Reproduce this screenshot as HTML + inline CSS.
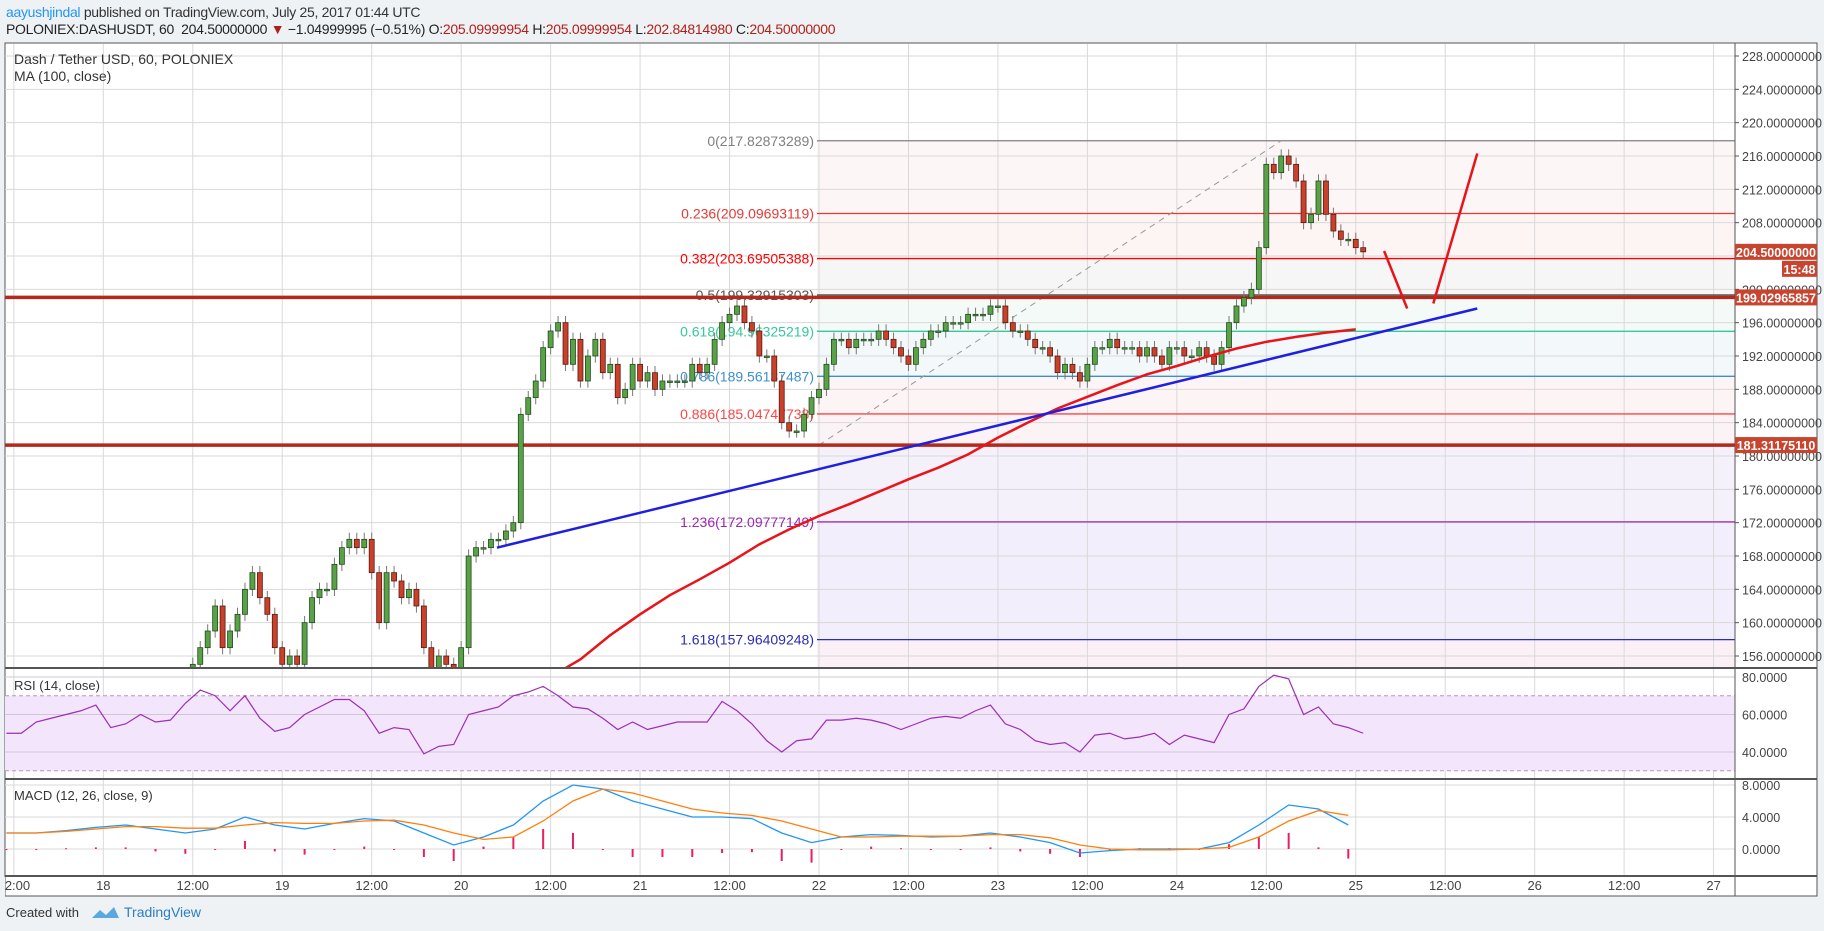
<!DOCTYPE html>
<html><head><meta charset="utf-8"><style>
html,body{margin:0;padding:0;background:#eff2f5;width:1824px;height:931px;overflow:hidden;font-family:"Liberation Sans",sans-serif}
#hdr1{position:absolute;left:6px;top:4px;font-size:14px;color:#333;letter-spacing:-0.3px}
#hdr2{position:absolute;left:6px;top:21px;font-size:14px;color:#222;letter-spacing:-0.3px}
.red{color:#b0201a}
svg{position:absolute;left:0;top:0}
</style></head><body>
<div id="hdr1"><span style="color:#2196f3">aayushjindal</span> published on TradingView.com, July 25, 2017 01:44 UTC</div>
<div id="hdr2">POLONIEX:DASHUSDT, 60&nbsp; 204.50000000 <span class="red">▼</span> −1.04999995 (−0.51%) O:<span class="red">205.09999954</span> H:<span class="red">205.09999954</span> L:<span class="red">202.84814980</span> C:<span class="red">204.50000000</span></div>
<svg id="chart" width="1824" height="931"></svg>
<script>
// ---- data ----
const candleStartHour = -84; // hours relative to Jul 22 00:00
const closes = [155,157,159,162,157,159,161,164,166,163,161,157,155,156,155,160,163,164,164,167,169,170,169,170,166,160,166,165,163,164,162,157,154,156,155,154,157,168,169,169,170,170,171,172,185,187,189,193,195,196,191,194,189,192,194,190,191,187,188,191,189,190,188,189,189,189,189,191,190,191,194,196,197,198,196,195,192,192,189,184,183,183,185,187,188,191,194,194,193,194,194,194,195,194,193,192,191,193,194,195,195,196,196,196,197,197,197,198,198,196,195,195,194,193,193,192,190,191,190,189,191,193,193,194,193,193,193,192,193,192,191,193,193,192,192,193,192,191,193,196,198,199,200,205,215,214,216,215,213,208,209,213,209,207,206,206,205,204.5];
const rsiStartHour = -109, rsiStep = 2;
const rsiValues = [50,50,56,58,60,62,65,53,55,60,56,57,66,73,70,62,70,58,51,53,60,64,68,68,62,50,53,52,39,43,44,60,62,64,70,72,75,70,64,63,58,52,56,52,54,56,56,56,67,62,55,46,40,46,47,57,57,58,57,55,52,55,58,59,58,62,65,55,52,46,44,45,40,49,50,47,48,50,44,49,47,45,60,63,75,81,79,60,64,55,53,50];
const macdStartHour = -109, macdStep = 4;
const macdValues = [2,2,2.3,2.7,3,2.5,2,2.5,4,3,2.5,3.2,3.8,3.5,2,0.5,1.5,3,6,8,7.5,6,5,4,4,3.8,2,0.8,1.5,1.8,1.7,1.5,1.6,2,1.5,0.8,-0.5,-0.2,0,0,0,0.8,3,5.5,5,3];
const signalValues = [2,2,2.2,2.5,2.8,2.8,2.6,2.6,3,3.3,3.2,3.2,3.5,3.6,3,2,1.2,1.5,3.5,6,7.5,7,6,5,4.5,4.2,3.5,2.5,1.5,1.5,1.6,1.6,1.6,1.8,1.8,1.4,0.5,0,-0.1,-0.1,0,0.2,1.5,3.5,4.8,4.2];
const maStartHour = -36, maStep = 4;
const maValues = [153.5,155.6,158.5,161,163.3,165.2,167.2,169.4,171.2,172.8,174.2,175.7,177.2,178.6,180.2,182.2,184,185.7,187.1,188.5,189.8,190.8,191.9,192.9,193.7,194.3,194.8,195.2];
const fibRatios = ["0","0.236","0.382","0.5","0.618","0.786","0.886","1","1.236","1.618"];
const fibPrices = [217.82873289,209.09693119,203.69505388,199.32915303,194.96325219,189.56137487,185.04747738,181.31175110,172.09777149,157.96409248];
const priceTicks = [228,224,220,216,212,208,200,196,192,188,184,180,176,172,168,164,160,156];
const rsiTicks = [80,60,40];
const macdTicks = [8,4,0];
const timeLabels = ["12:00","18","12:00","19","12:00","20","12:00","21","12:00","22","12:00","23","12:00","24","12:00","25","12:00","26","12:00","27"];
const timeLabelStart = -108;
const supportLevels = [199.02965857,181.3117511];
const trendLine = {h1:-43.2, p1:169, h2:88.3, p2:197.7};
const fibAnchor = {h1:0, p1:181.31175110, h2:62, p2:217.82873289};
const projHours = [75.8,78.9,82.4,88.3];
const projPrices = [204.6,197.7,198.3,216.3];
const lastPrice = 204.5;

// ---- scales ----
const L=5,R=1735,AX=1817;
const xT=h=>819+h*7.455;
const yP=p=>56+(228-p)*8.3333;
const yR=v=>677+(80-v)*1.875;
const yM=v=>849-v*8;
const NS="http://www.w3.org/2000/svg";
const svg=document.getElementById('chart');
function el(tag,attrs,parent){const e=document.createElementNS(NS,tag);for(const k in attrs)e.setAttribute(k,attrs[k]);(parent||svg).appendChild(e);return e;}
function txt(s,attrs,parent){const e=el('text',attrs,parent);e.textContent=s;return e;}

// frames
const bg=el('rect',{x:L,y:43,width:AX-L,height:853,fill:'#fff',stroke:'#555','stroke-width':1});

const defs=el('defs',{});
const c1=el('clipPath',{id:'cm'},defs);el('rect',{x:L,y:44,width:R-L,height:623},c1);
const c2=el('clipPath',{id:'cr'},defs);el('rect',{x:L,y:669,width:R-L,height:109},c2);
const c3=el('clipPath',{id:'cd'},defs);el('rect',{x:L,y:780,width:R-L,height:95},c3);
const gm=el('g',{'clip-path':'url(#cm)'});
const gr=el('g',{'clip-path':'url(#cr)'});
const gd=el('g',{'clip-path':'url(#cd)'});

// fib fills
const fibFills=['#fdf6f6','#fdf4f4','#f6f6f6','#f4faf7','#f3f8fb','#fdf4f5','#fbf3f6','#f4f1fb','#f3eefb'];
for(let i=0;i<fibPrices.length-1;i++){
  const r=el('rect',{x:xT(fibAnchor.h1)-2,y:yP(fibPrices[i]),width:R-xT(fibAnchor.h1)+2,height:yP(fibPrices[i+1])-yP(fibPrices[i]),fill:fibFills[i]},gm);
  
}
el('rect',{x:xT(fibAnchor.h1)-2,y:yP(fibPrices[9]),width:R-xT(fibAnchor.h1)+2,height:200,fill:'#fbf0f5'},gm);

// grid
[gm,gr,gd].forEach(g=>{for(let i=0;i<timeLabels.length;i++){const x=xT(timeLabelStart+i*12);el('line',{x1:x,x2:x,y1:43,y2:880,stroke:'#d9d9d9','stroke-width':1},g);}});
priceTicks.concat([204]).forEach(p=>el('line',{x1:L,x2:R,y1:yP(p),y2:yP(p),stroke:'#d9d9d9'},gm));
rsiTicks.forEach(v=>el('line',{x1:L,x2:R,y1:yR(v),y2:yR(v),stroke:'#d0d0d0'},gr));
macdTicks.forEach(v=>el('line',{x1:L,x2:R,y1:yM(v),y2:yM(v),stroke:'#d9d9d9'},gd));

// fib lines
const fibColors=['#808080','#e53935','#f00','#555','#35c89a','#3d8fd1','#f44','#c00','#9c27b0','#2b2bb8'];
fibPrices.forEach((p,i)=>{
  const ln=el('line',{x1:xT(fibAnchor.h1)-2,x2:R,y1:yP(p),y2:yP(p),stroke:fibColors[i],'stroke-width':1.3},gm);
  
  if(i!==7){const t=txt(fibRatios[i]+'('+p.toFixed(8)+')',{x:xT(fibAnchor.h1)-5,y:yP(p)+5,'text-anchor':'end','font-size':14,fill:fibColors[i]},gm);
  }
});
el('line',{x1:xT(fibAnchor.h1),y1:yP(fibAnchor.p1),x2:xT(fibAnchor.h2),y2:yP(fibAnchor.p2),stroke:'#999','stroke-dasharray':'6,5','stroke-width':1},gm);

// support lines
supportLevels.forEach(p=>{const s=el('line',{x1:L,x2:R,y1:yP(p),y2:yP(p),stroke:'#b3291c','stroke-width':3.5},gm);});

// candles
closes.forEach((c,i)=>{
  const o=i?closes[i-1]:c-1, h=candleStartHour+i, x=xT(h);
  const up=c>=o, hi=Math.max(o,c)+0.8, lo=Math.min(o,c)-0.8;
  const g=el('g',{},gm);
  el('line',{x1:x,x2:x,y1:yP(hi),y2:yP(lo),stroke:'#777'},g);
  const top=yP(Math.max(o,c)),bh=Math.max(1.5,yP(Math.min(o,c))-top);
  el('rect',{x:x-2.5,y:top,width:5,height:bh,fill:up?'#5aa148':'#c9402b',stroke:up?'#1f4d1c':'#5a1a12','stroke-width':0.8},g);
});

// MA
let d='';maValues.forEach((v,i)=>{d+=(i?'L':'M')+xT(maStartHour+i*maStep)+','+yP(v);});
const ma=el('path',{d:d,fill:'none',stroke:'#e8141a','stroke-width':2.5},gm);
const tl=el('line',{x1:xT(trendLine.h1),y1:yP(trendLine.p1),x2:xT(trendLine.h2),y2:yP(trendLine.p2),stroke:'#1f1fe0','stroke-width':2.5},gm);

const ar=el('path',{d:`M${xT(projHours[0])},${yP(projPrices[0])}L${xT(projHours[1])},${yP(projPrices[1])}M${xT(projHours[2])},${yP(projPrices[2])}L${xT(projHours[3])},${yP(projPrices[3])}`,fill:'none',stroke:'#e8141a','stroke-width':2.5},gm);


// RSI
el('rect',{x:L,y:yR(70),width:R-L,height:yR(30)-yR(70),fill:'#f3e5fb'},gr);
[70,30].forEach(v=>el('line',{x1:L,x2:R,y1:yR(v),y2:yR(v),stroke:'#b39ab8','stroke-dasharray':'4,3'},gr));
rsiTicks.forEach(v=>el('line',{x1:L,x2:R,y1:yR(v),y2:yR(v),stroke:'#d0c6d6'},gr));
d='';rsiValues.forEach((v,i)=>{d+=(i?'L':'M')+xT(rsiStartHour+i*rsiStep)+','+yR(v);});
const rl=el('path',{d:d,fill:'none',stroke:'#9b30b5','stroke-width':1.2},gr);

// MACD
macdValues.forEach((v,i)=>{const hv=v-signalValues[i],x=xT(macdStartHour+i*macdStep);
  const b=el('rect',{x:x-1,y:Math.min(yM(0),yM(hv)),width:2,height:Math.max(1,Math.abs(hv*8)),fill:'#e91e63'},gd);
  });
d='';macdValues.forEach((v,i)=>{d+=(i?'L':'M')+xT(macdStartHour+i*macdStep)+','+yM(v);});
const ml=el('path',{d:d,fill:'none',stroke:'#2196f3','stroke-width':1.3},gd);
d='';signalValues.forEach((v,i)=>{d+=(i?'L':'M')+xT(macdStartHour+i*macdStep)+','+yM(v);});
const sl=el('path',{d:d,fill:'none',stroke:'#ff7f0e','stroke-width':1.3},gd);

// pane borders
[668,779,876].forEach(y=>el('line',{x1:L,x2:AX,y1:y,y2:y,stroke:'#555','stroke-width':2}));
el('line',{x1:R,x2:R,y1:43,y2:896,stroke:'#555','stroke-width':1});

// axes labels
const ax=el('g',{});
priceTicks.forEach(p=>{el('line',{x1:R,x2:R+4,y1:yP(p),y2:yP(p),stroke:'#555'},ax);txt(p.toFixed(8),{x:R+7,y:yP(p)+5,'font-size':12.5,fill:'#444'},ax);});
rsiTicks.forEach(v=>txt(v.toFixed(4),{x:R+7,y:yR(v)+5,'font-size':12.5,fill:'#444'}));
macdTicks.forEach(v=>txt(v.toFixed(4),{x:R+7,y:yM(v)+5,'font-size':12.5,fill:'#444'}));
function tag(s,y,w){el('rect',{x:AX-w,y:y-8,width:w,height:16,fill:'#c8442e'});txt(s,{x:AX-w/2,y:y+5,'font-size':12.5,'font-weight':'bold',fill:'#fff','text-anchor':'middle'});}
tag(lastPrice.toFixed(8),yP(lastPrice),82);tag('15:48',yP(lastPrice)+17,35);
supportLevels.forEach(p=>tag(p.toFixed(8),yP(p),82));
const ta=el('g',{});
timeLabels.forEach((s,i)=>{const x=xT(timeLabelStart+i*12);if(x>L)txt(s,{x:x,y:890,'font-size':13,fill:'#444','text-anchor':'middle'},ta);});
el('rect',{x:0,y:877,width:L,height:20,fill:'#eff2f5'});
txt('Dash / Tether USD, 60, POLONIEX',{x:14,y:64,'font-size':14,fill:'#333'});
txt('MA (100, close)',{x:14,y:81,'font-size':14,fill:'#333'});
txt('RSI (14, close)',{x:14,y:690,'font-size':13,fill:'#333'});
txt('MACD (12, 26, close, 9)',{x:14,y:800,'font-size':13,fill:'#333'});
const ft=txt('Created with',{x:6,y:917,'font-size':13,fill:'#333'});
el('path',{d:'M92,918 l8,-8 l6,5 l8,-8 l5,11 z',fill:'#59a9e0'});
const tv=txt('TradingView',{x:124,y:917,'font-size':14,fill:'#2a7ec2'});
</script>
</body></html>
